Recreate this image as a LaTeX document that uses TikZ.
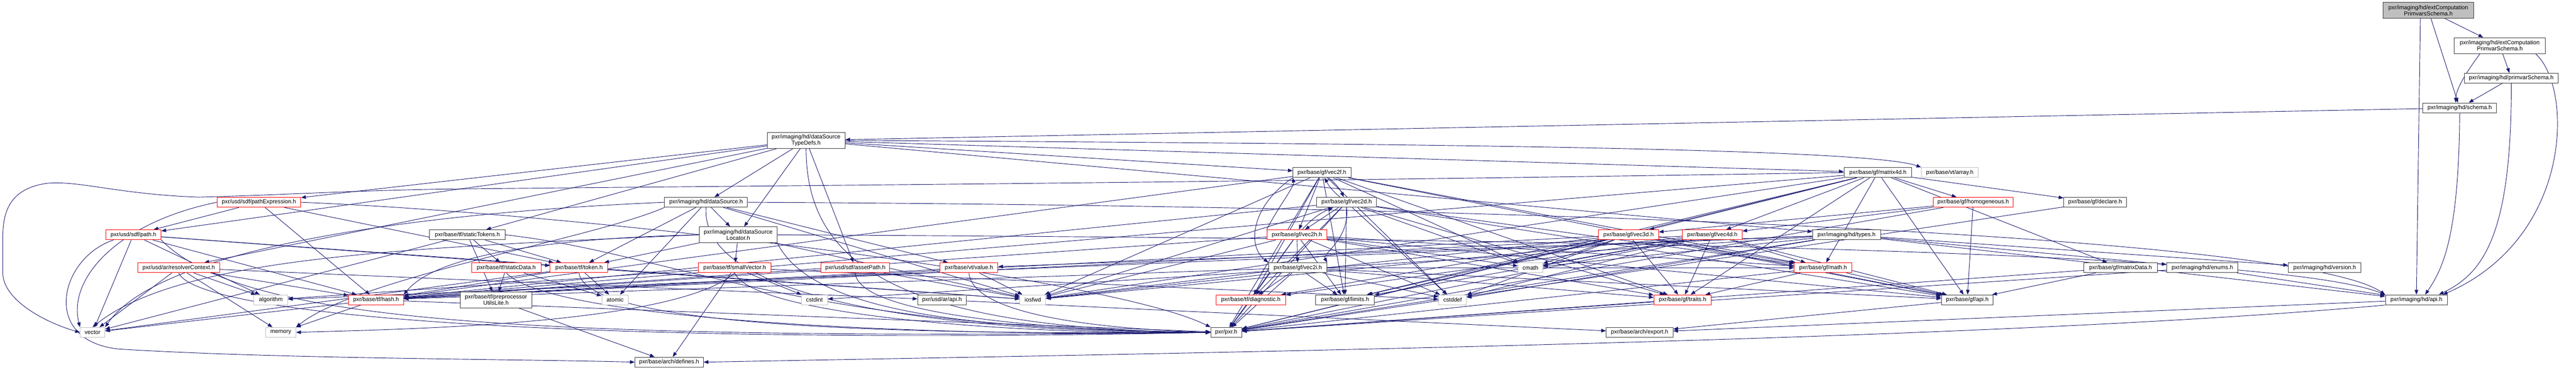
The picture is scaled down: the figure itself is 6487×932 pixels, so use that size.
\documentclass[tikz,border=0pt]{standalone}
\usepackage{fontspec}
\setmainfont{Liberation Sans}
\usetikzlibrary{arrows.meta,backgrounds}
\definecolor{edgec}{HTML}{191970}
\definecolor{redb}{HTML}{FF0000}
\definecolor{blkb}{HTML}{3A3A3A}
\definecolor{gryb}{HTML}{BFBFBF}
\definecolor{topfill}{HTML}{BFBFBF}
\tikzset{
  box/.style={draw, fill=white, line width=1.3pt, inner sep=0pt, minimum height=25pt,
    font=\fontsize{14.5}{15.5}\selectfont, align=center},
  blkbox/.style={box, draw=blkb},
  redbox/.style={box, draw=redb},
  grybox/.style={box, draw=gryb},
  dep/.style={draw=edgec, line width=1.2pt, -{Triangle[length=12pt,width=9pt]}}
}
\begin{document}
\begin{tikzpicture}[x=1pt,y=-1pt]
\useasboundingbox (0,0) rectangle (6487,932);
% ---------------- nodes ----------------
\node[blkbox, fill=topfill, minimum width=229pt, minimum height=40pt] (top) at (6115,26) {pxr/imaging/hd/extComputation\\PrimvarsSchema.h};
\node[blkbox, minimum width=229pt, minimum height=40pt] (ecps) at (6295,115) {pxr/imaging/hd/extComputation\\PrimvarSchema.h};
\node[blkbox, minimum width=237pt] (pvs) at (6324,197) {pxr/imaging/hd/primvarSchema.h};
\node[blkbox, minimum width=186pt] (schema) at (6194,272) {pxr/imaging/hd/schema.h};
\node[blkbox, minimum width=196pt, minimum height=40pt] (dstd) at (2030,354) {pxr/imaging/hd/dataSource\\TypeDefs.h};
\node[blkbox, minimum width=209pt] (ds) at (1778,510) {pxr/imaging/hd/dataSource.h};
\node[blkbox, minimum width=196pt, minimum height=40pt] (dsl) at (1859,592) {pxr/imaging/hd/dataSource\\Locator.h};
\node[blkbox, minimum width=190pt] (staticTokens) at (1177,592) {pxr/base/tf/staticTokens.h};
\node[redbox, minimum width=175pt] (staticData) at (1275,675) {pxr/base/tf/staticData.h};
\node[redbox, minimum width=145pt] (token) at (1458,675) {pxr/base/tf/token.h};
\node[redbox, minimum width=183pt] (smallVector) at (1850,675) {pxr/base/tf/smallVector.h};
\node[redbox, minimum width=173pt] (assetPath) at (2154,675) {pxr/usd/sdf/assetPath.h};
\node[blkbox, minimum width=180pt, minimum height=40pt] (ppul) at (1249,756) {pxr/base/tf/preprocessor\\UtilsLite.h};
\node[grybox, minimum width=67pt] (atomic) at (1549,756) {atomic};
\node[grybox, minimum width=66pt] (cstdint) at (2051,756) {cstdint};
\node[blkbox, minimum width=172pt] (archdefines) at (1685,913) {pxr/base/arch/defines.h};
\node[redbox, minimum width=146pt] (value) at (2440,675) {pxr/base/vt/value.h};
\node[blkbox, minimum width=122pt] (arapi) at (2372,756) {pxr/usd/ar/api.h};
\node[grybox, minimum width=65pt] (iosfwd) at (2601,756) {iosfwd};
\node[blkbox, minimum width=78pt] (pxr) at (3088,838) {pxr/pxr.h};
\node[redbox, minimum width=175pt] (diagnostic) at (3150,756) {pxr/base/tf/diagnostic.h};
\node[blkbox, minimum width=146pt] (vec2f) at (3329,435) {pxr/base/gf/vec2f.h};
\node[redbox, minimum width=151pt] (vec2h) at (3266,592) {pxr/base/gf/vec2h.h};
\node[blkbox, minimum width=147pt] (vec2i) at (3268,675) {pxr/base/gf/vec2i.h};
\node[blkbox, minimum width=151pt] (vec2d) at (3391,510) {pxr/base/gf/vec2d.h};
\node[blkbox, minimum width=147pt] (limits) at (3387,756) {pxr/base/gf/limits.h};
\node[grybox, minimum width=70pt] (cstddef) at (3658,756) {cstddef};
\node[grybox, minimum width=62pt] (cmath) at (3854,675) {cmath};
\node[redbox, minimum width=151pt] (vec3d) at (4101,592) {pxr/base/gf/vec3d.h};
\node[redbox, minimum width=150pt] (vec4d) at (4312,592) {pxr/base/gf/vec4d.h};
\node[redbox, minimum width=144pt] (traits) at (4237,756) {pxr/base/gf/traits.h};
\node[blkbox, minimum width=168pt] (archexport) at (4129,838) {pxr/base/arch/export.h};
\node[blkbox, minimum width=171pt] (matrix4d) at (4729,435) {pxr/base/gf/matrix4d.h};
\node[grybox, minimum width=143pt] (vtarray) at (4910,435) {pxr/base/vt/array.h};
\node[redbox, minimum width=202pt] (homogeneous) at (4969,510) {pxr/base/gf/homogeneous.h};
\node[blkbox, minimum width=158pt] (declare) at (5276,510) {pxr/base/gf/declare.h};
\node[blkbox, minimum width=171pt] (hdtypes) at (4650,592) {pxr/imaging/hd/types.h};
\node[redbox, minimum width=145pt] (math) at (4591,675) {pxr/base/gf/math.h};
\node[blkbox, minimum width=186pt] (matrixData) at (5340,675) {pxr/base/gf/matrixData.h};
\node[blkbox, minimum width=130pt] (gfapi) at (4954,756) {pxr/base/gf/api.h};
\node[blkbox, minimum width=179pt] (enums) at (5546,675) {pxr/imaging/hd/enums.h};
\node[blkbox, minimum width=183pt] (version) at (5854,675) {pxr/imaging/hd/version.h};
\node[blkbox, minimum width=156pt] (hdapi) at (6085,756) {pxr/imaging/hd/api.h};
\node[redbox, minimum width=211pt] (pathExpression) at (652,510) {pxr/usd/sdf/pathExpression.h};
\node[redbox, minimum width=139pt] (path) at (336,592) {pxr/usd/sdf/path.h};
\node[redbox, minimum width=206pt] (resolverContext) at (450,675) {pxr/usd/ar/resolverContext.h};
\node[grybox, minimum width=85pt] (algorithm) at (682,756) {algorithm};
\node[redbox, minimum width=138pt] (hash) at (947,756) {pxr/base/tf/hash.h};
\node[grybox, minimum width=62pt] (vector) at (233,838) {vector};
\node[grybox, minimum width=76pt] (memory) at (707,838) {memory};
% ---------------- edges ----------------
\begin{scope}[on background layer]
% top cluster
\draw[dep] (top) -- (ecps);
\draw[dep] (top) -- (schema);
\draw[dep] ([xshift=-20pt]top.south) -- (hdapi.north);
\draw[dep] (ecps) -- (pvs);
\draw[dep] ([xshift=-50pt]ecps.south) .. controls (6220,170) and (6185,220) .. ([xshift=-10pt]schema.north);
\draw[dep] ([xshift=-25pt]ecps.south east) .. controls (6480,220) and (6480,600) .. ([xshift=-12pt]hdapi.north east);
\draw[dep] (pvs) -- (schema);
\draw[dep] (pvs.south) .. controls (6325,600) and (6250,690) .. ([xshift=-22pt]hdapi.north east);
\draw[dep] (schema) -- (dstd);
\draw[dep] (schema.south) .. controls (6192,600) and (6150,680) .. ([xshift=22pt]hdapi.north);
% dataSourceTypeDefs
\draw[dep] (dstd) -- (ds);
\draw[dep] (dstd) -- (dsl);
\draw[dep] (dstd) -- (staticTokens);
\draw[dep] (dstd) -- (assetPath);
\draw[dep] (dstd.south) .. controls (2030,660) and (2250,830) .. (pxr.west);
\draw[dep] (dstd) -- (pathExpression);
\draw[dep] (dstd) -- (path);
\draw[dep] (dstd) -- (resolverContext);
\draw[dep] (dstd) -- (vec2f);
\draw[dep] (dstd) -- (matrix4d);
\draw[dep] (dstd.east) .. controls (3500,362) and (4700,372) .. (vtarray.north west);
\draw[dep] (dstd) -- (hdtypes);
% dataSource
\draw[dep] (ds) -- (dsl);
\draw[dep] (ds) -- (token);
\draw[dep] (ds) -- (atomic);
\draw[dep] (ds) -- (value);
\draw[dep] (ds) -- (iosfwd);
\draw[dep] (ds.south west) .. controls (1500,600) and (900,700) .. (memory.north east);
\draw[dep] (ds.west) .. controls (1200,530) and (420,600) .. (vector.north east);
\draw[dep] (ds.east) .. controls (4000,520) and (5800,600) .. (hdapi.north west);
\draw[dep] (ds.south) .. controls (1760,800) and (2600,840) .. (pxr.west);
% dataSourceLocator
\draw[dep] (dsl) -- (smallVector);
\draw[dep] (dsl) -- (token);
\draw[dep] (dsl.west) .. controls (1400,600) and (1100,640) .. (hash.north east);
\draw[dep] (dsl) -- (iosfwd);
\draw[dep] (dsl.west) .. controls (1000,625) and (450,650) .. (vector.north);
\draw[dep] (dsl.east) .. controls (3500,600) and (5700,620) .. (hdapi.north west);
\draw[dep] (dsl.south east) .. controls (2050,800) and (2500,830) .. (pxr.west);
% staticTokens
\draw[dep] (staticTokens) -- (ppul);
\draw[dep] (staticTokens) -- (staticData);
\draw[dep] (staticTokens) -- (token);
\draw[dep] (staticTokens) -- (vector);
\draw[dep] (staticTokens.east) .. controls (1700,640) and (2000,830) .. (pxr.west);
% staticData
\draw[dep] (staticData) -- (ppul);
\draw[dep] (staticData) -- (atomic);
\draw[dep] (staticData.south) .. controls (1400,820) and (2500,850) .. (pxr.west);
% token
\draw[dep] (token) -- (atomic);
\draw[dep] (token) -- (hash);
\draw[dep] (token) -- (iosfwd);
\draw[dep] (token) -- (vector);
\draw[dep] (token.south) .. controls (1480,850) and (2600,840) .. (pxr.west);
% preprocessorUtilsLite
\draw[dep] (ppul) -- (archdefines);
% smallVector
\draw[dep] (smallVector) -- (archdefines);
\draw[dep] (smallVector) -- (cstdint);
\draw[dep] (smallVector) -- (cstddef);
\draw[dep] (smallVector) -- (algorithm);
\draw[dep] (smallVector.south) .. controls (1700,820) and (1000,830) .. (memory.east);
\draw[dep] (smallVector.south) .. controls (1900,800) and (2600,845) .. (pxr.west);
% assetPath
\draw[dep] (assetPath) -- (iosfwd);
\draw[dep] (assetPath) -- (hash);
\draw[dep] (assetPath.south) .. controls (2160,800) and (2700,835) .. (pxr.west);
% value
\draw[dep] (value) -- (iosfwd);
\draw[dep] (value) -- (hash);
\draw[dep] (value.south) .. controls (2450,800) and (2800,830) .. (pxr.west);
% api headers
\draw[dep] (arapi) -- (archexport);
\draw[dep] (gfapi) -- (archexport);
\draw[dep] (hdapi) -- (archexport);
\draw[dep] (hdapi.south west) .. controls (5000,860) and (3000,890) .. (archdefines.east);
\draw[dep] (diagnostic) -- (pxr);
% pathExpression
\draw[dep] (pathExpression) -- (path);
\draw[dep] (pathExpression) -- (hash);
\draw[dep] (pathExpression.west) .. controls (300,560) and (170,700) .. (vector.north west);
\draw[dep] (pathExpression) -- (token);
\draw[dep] (pathExpression.east) .. controls (1500,540) and (2800,700) .. (pxr.north west);
% path
\draw[dep] (path) -- (vector);
\draw[dep] (path) -- (algorithm);
\draw[dep] (path) -- (token);
\draw[dep] (path) -- (iosfwd);
\draw[dep] (path) -- (hash);
\draw[dep] (path.south east) .. controls (600,800) and (1200,860) .. (pxr.west);
\draw[dep] ([xshift=20pt]path.south west) .. controls (150,650) and (100,860) .. (300,880) .. controls (700,905) and (1300,905) .. (archdefines.west);
% resolverContext
\draw[dep] (resolverContext) -- (vector);
\draw[dep] (resolverContext) -- (algorithm);
\draw[dep] (resolverContext) -- (hash);
\draw[dep] (resolverContext) -- (memory);
\draw[dep] (resolverContext) -- (arapi);
\draw[dep] (resolverContext.south) .. controls (500,800) and (1500,870) .. (pxr.west);
% hash
\draw[dep] (hash) -- (vector);
\draw[dep] (hash) -- (memory);
\draw[dep] (hash) -- (pxr);
% vec2 family
\draw[dep] (vec2f) to[bend left=12] (vec2d);
\draw[dep] (vec2d) to[bend left=12] (vec2f);
\draw[dep] (vec2f) -- (vec2h);
\draw[dep] (vec2f.south west) .. controls (3150,520) and (3140,620) .. (vec2i.north west);
\draw[dep] (vec2d) -- (vec2h);
\draw[dep] (vec2d.south) .. controls (3400,600) and (3330,640) .. (vec2i.north east);
\draw[dep] (vec2h) to[bend left=12] (vec2d);
\draw[dep] (vec2h.north west) .. controls (3220,520) and (3260,470) .. (vec2f.south west);
\draw[dep] (vec2h) -- (vec2i);
\foreach \s in {vec2f,vec2d,vec2h,vec3d,vec4d}{
  \foreach \t in {limits,cstddef,cmath,traits,math,gfapi,diagnostic,hash,iosfwd,pxr}{
    \draw[dep] (\s) -- (\t);
  }
}
\foreach \t in {limits,cstddef,traits,math,gfapi,diagnostic,hash,iosfwd,pxr}{
  \draw[dep] (vec2i) -- (\t);
}
% matrix4d
\foreach \t in {homogeneous,declare,matrixData,vec3d,vec4d,limits,math,gfapi,traits,hash,iosfwd,pxr}{
  \draw[dep] (matrix4d) -- (\t);
}
\draw[dep] (matrix4d.west) .. controls (3000,462) and (1700,470) .. (1100,477) .. controls (850,482) and (700,492) .. (500,497) .. controls (300,490) and (200,455) .. (120,462) .. controls (20,475) and (7,540) .. (7,600) -- (7,690) .. controls (10,760) and (120,815) .. (vector.west);
% homogeneous, declare, matrixData, math, traits
\draw[dep] (homogeneous) -- (vec3d);
\draw[dep] (homogeneous) -- (vec4d);
\draw[dep] (homogeneous) -- (gfapi);
\draw[dep] (homogeneous) -- (pxr);
\draw[dep] (declare) -- (pxr);
\draw[dep] (matrixData) -- (gfapi);
\draw[dep] (matrixData) -- (pxr);
\draw[dep] (math) -- (traits);
\draw[dep] (math) -- (gfapi);
\draw[dep] (math) -- (pxr);
\draw[dep] (traits) -- (pxr);
% hd types
\foreach \t in {enums,version,hdapi,value,cmath,cstddef,cstdint,algorithm,pxr}{
  \draw[dep] (hdtypes) -- (\t);
}
\draw[dep] (enums) -- (hdapi);
\draw[dep] (enums) -- (pxr);
\end{scope}
\end{tikzpicture}
\end{document}
